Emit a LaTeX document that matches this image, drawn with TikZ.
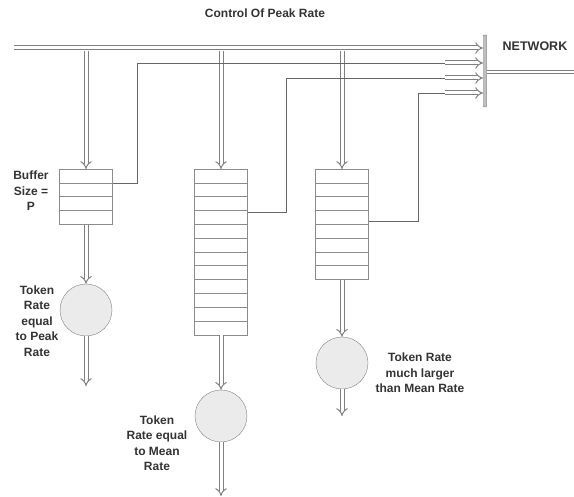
\documentclass[tikz,border=0pt]{standalone}
\usepackage{fontspec}
\setmainfont{Liberation Sans}
\usetikzlibrary{arrows.meta}

\begin{document}
\begin{tikzpicture}[x=1pt,y=-1pt,
    tube/.style={draw=black!50,line width=1pt,double=white,double distance=3pt},
    pipe/.style={tube,-{Implies[scale=1.3]}},
    ctl/.style={draw=black!60,line width=0.9pt},
    buf/.style={draw=black!45,fill=white,minimum width=53pt,inner sep=0pt,anchor=north},
    tok/.style={circle,draw=black!50,fill=black!8,minimum size=52pt,inner sep=0pt},
    lbl/.style={text=black!80,font=\fontsize{12}{15.5}\selectfont\bfseries,align=center}]
        \def\cell{13.8}
        \def\qtop{169}

        \useasboundingbox (0,0) rectangle (574,497);

        %------------------
        % 見出し
        %------------------
        \node[lbl] (title) at (265,13) {Control Of Peak Rate};
        \node[lbl,font=\fontsize{12.5}{14}\selectfont\bfseries] (net) at (535,46) {NETWORK};

        %------------------
        % ネットワーク側
        %------------------
        \node[draw=black!50,fill=black!25,minimum width=3.5pt,minimum height=72pt,
              inner sep=0pt,rounded corners=1pt] (bar) at (485,71) {};
        \coordinate (busL) at (14,48);
        \coordinate (netR) at (574,72);
        \draw[pipe] (busL) -- (bar.west |- busL);
        \draw[tube,double distance=2pt] (bar.east |- netR) -- (netR);

        %------------------
        % バッファ
        %------------------
        \node[buf,minimum height={4*\cell}] (q1) at (86,\qtop) {};
        \node[buf,minimum height={12*\cell}] (q2) at (221,\qtop) {};
        \node[buf,minimum height={8*\cell}] (q3) at (342,\qtop) {};
        \foreach \q/\nr in {q1/4,q2/12,q3/8}
          \foreach \i in {2,...,\nr}
            \draw[black!45] (\q.north west) ++(0,{(\i-1)*\cell}) -- ++(53,0);

        % トークン
        \node[tok] (t1) at (86,310) {};
        \node[tok] (t2) at (221,416) {};
        \node[tok] (t3) at (342,363) {};

        %------------------
        % 矢印
        %------------------
        \foreach \q in {q1,q2,q3}
          \draw[pipe] (\q.north |- 0,51) -- (\q.north);
        \draw[pipe] (q1.south) -- (t1.north);
        \draw[pipe] (q2.south) -- (t2.north);
        \draw[pipe] (q3.south) -- (t3.north);

        \coordinate (o1) at (86,386);
        \coordinate (o2) at (221,496);
        \coordinate (o3) at (342,416);
        \draw[pipe] (t1.south) -- (o1);
        \draw[pipe] (t2.south) -- (o2);
        \draw[pipe] (t3.south) -- (o3);

        % 制御線
        \coordinate (a1) at (445,63);
        \coordinate (a2) at (445,78);
        \coordinate (a3) at (445,93);
        \foreach \a in {a1,a2,a3}
          \draw[pipe] (\a) -- (bar.west |- \a);
        \draw[ctl] (q1.east |- 0,183) -| (137,63) -- (a1);
        \draw[ctl] (q2.east |- 0,212) -| (286,78) -- (a2);
        \draw[ctl] (q3.east |- 0,221) -| (418,93) -- (a3);

        % ラベル
        \node[lbl] (bufl) at (31,191) {Buffer\\Size =\\P};
        \node[lbl] (peakl) at (37,321) {Token\\Rate\\equal\\to Peak\\Rate};
        \node[lbl] (meanl) at (157,443) {Token\\Rate equal\\to Mean\\Rate};
        \node[lbl] (largel) at (420,373) {Token Rate\\much larger\\than Mean Rate};
      \end{tikzpicture}
\end{document}
